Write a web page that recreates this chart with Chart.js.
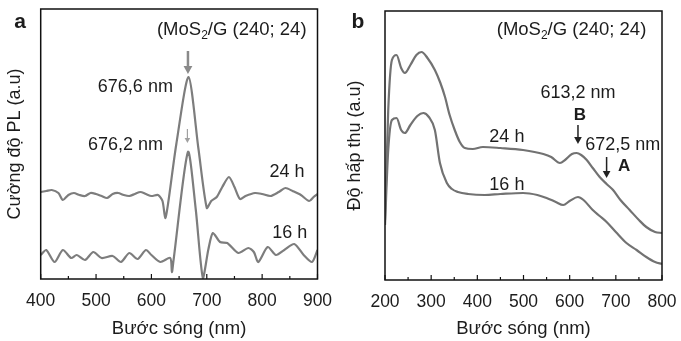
<!DOCTYPE html>
<html>
<head>
<meta charset="utf-8">
<script src="https://cdn.jsdelivr.net/npm/chart.js@4/dist/chart.umd.min.js"></script>
<style>
html,body{margin:0;padding:0;background:#fff;}
#wrap{position:relative;width:681px;height:341px;overflow:hidden;}
#ca{position:absolute;left:0;top:0;}
#cb{position:absolute;left:340px;top:0;}
</style>
</head>
<body>
<div id="wrap">
<canvas id="ca" width="340" height="341"></canvas>
<canvas id="cb" width="341" height="341"></canvas>
</div>
<script>
// ---------- Panel a: PL spectra ----------
const plWavelength24 = [400,410,420,432,440,450,460,470,480,490,500,510,520,530,540,550,560,570,580,590,600,612,620,625,630,645,667,685,700,708,718,728,740,750,760,770,787,800,815,830,842,855,870,885,893,900];
const plIntensity24  = [87,88,89,86,79,84,86,84,83,86,85,83,81,85,86,84,83,85,87,85,83,84,78,61,75,135,202,130,71,78,82,92,102,92,80,83,86,85,83,87,91,88,84,78,82,85];
const plWavelength16 = [400,410,425,440,455,465,480,495,510,530,545,560,575,590,600,616,634,637,640,666,680,693,703,711,724,737,757,775,785,793,810,825,840,858,875,890,900];
const plIntensity16  = [24,29,17,29,21,24,19,27,21,23,17,26,20,29,24,17,21,7,19,127,70,1,30,46,37,36,26,31,27,17,32,24,29,35,24,17,29];
const plTicks = [400,500,600,700,800,900];

// ---------- Panel b: absorption spectra ----------
const absWavelength24 = [200,207,215,225,235,243,255,268,279,292,308,320,330,340,351,362,373,390,412,450,499,543,560,579,590,605,615,625,637,650,665,680,694,710,730,750,766,785,800];
const absValue24      = [60,170,220,225,212,207,215,225,228,222,210,197,183,165,150,138,132,131,133,132,130,126,123,117,120,126,127,125,120,112,103,96,90,80,70,60,53,48,47];
const absWavelength16 = [200,207,215,225,235,243,255,270,283,295,308,319,334,345,358,380,416,450,499,530,550,570,586,600,618,630,650,665,680,700,723,745,766,785,800];
const absValue16      = [55,130,160,162,150,147,155,164,167,163,150,117,97,91,88,86,85,86,87,85,82,78,75,79,83,80,70,64,58,48,37,30,23,18,16];
const absTicks = [200,300,400,500,600,700,800];

const FONT = "'Liberation Sans', Arial, sans-serif";
const TXT = '#1c1c1c';
const FS = 18;

function pts(xs, ys){ return xs.map((x,i)=>({x:x,y:ys[i]})); }

function drawArrow(ctx, x, y1, y2, color, w, head){
  ctx.save();
  ctx.strokeStyle=color; ctx.fillStyle=color; ctx.lineWidth=w;
  ctx.beginPath(); ctx.moveTo(x,y1); ctx.lineTo(x,y2-head); ctx.stroke();
  ctx.beginPath(); ctx.moveTo(x-head*0.55,y2-head); ctx.lineTo(x+head*0.55,y2-head); ctx.lineTo(x,y2); ctx.closePath(); ctx.fill();
  ctx.restore();
}

function drawMoS2(ctx, x, y){
  ctx.save();
  ctx.fillStyle=TXT; ctx.textBaseline='middle'; ctx.textAlign='left';
  ctx.font = "18.5px "+FONT;
  let t1='(MoS'; ctx.fillText(t1,x,y); let w=ctx.measureText(t1).width;
  ctx.font = "12px "+FONT; ctx.fillText('2',x+w,y+6); w+=ctx.measureText('2').width;
  ctx.font = "18.5px "+FONT; ctx.fillText('/G (240; 24)',x+w,y);
  ctx.restore();
}

function framePlugin(minorStep, annot){
  return {
    id:'frame',
    afterDraw(chart){
      const ctx=chart.ctx, a=chart.chartArea, xs=chart.scales.x, ys=chart.scales.y;
      ctx.save();
      ctx.strokeStyle='#111'; ctx.lineWidth=1.5;
      ctx.strokeRect(a.left,a.top,a.right-a.left,a.bottom-a.top);
      ctx.lineWidth=1.2;
      for(let v=xs.min; v<=xs.max+0.001; v+=minorStep){
        const px=xs.getPixelForValue(v);
        const len = (Math.round(v)%100===0)?5:3;
        ctx.beginPath(); ctx.moveTo(px,a.bottom); ctx.lineTo(px,a.bottom-len); ctx.stroke();
      }
      ctx.restore();
      annot(ctx, xs, ys, chart);
    }
  };
}

function baseOptions(xmin,xmax,ymax,xTicks,yTitle,padRight,padTop,yWidth,xHeight){
  return {
    responsive:false, animation:false, devicePixelRatio:1,
    layout:{padding:{left:0,right:padRight,top:padTop,bottom:0}},
    plugins:{legend:{display:false},tooltip:{enabled:false}},
    elements:{point:{radius:0}},
    scales:{
      x:{type:'linear',min:xmin,max:xmax,
        afterBuildTicks(s){ s.ticks = xTicks.map(v=>({value:v})); },
        afterFit(s){ s.height=xHeight; },
        grid:{display:false}, border:{display:false},
        ticks:{color:TXT,font:{family:FONT,size:17.5},padding:4,maxRotation:0,autoSkip:false},
        title:{display:true,text:'Bước sóng (nm)',color:TXT,font:{family:FONT,size:18.5},padding:{top:4,bottom:1}}
      },
      y:{type:'linear',min:0,max:ymax,
        afterFit(s){ s.width=yWidth; },
        grid:{display:false}, border:{display:false},
        ticks:{display:false},
        title:{display:true,text:yTitle,color:TXT,font:{family:FONT,size:18},padding:{top:4,bottom:4}}
      }
    }
  };
}

// Panel a
const optA = baseOptions(400,900,270,plTicks,'Cường độ PL (a.u)',22.5,9,40.7,62);
new Chart(document.getElementById('ca'),{
  type:'line',
  data:{datasets:[
    {data:pts(plWavelength24,plIntensity24),borderColor:'#7d7d7d',borderWidth:2.2,tension:0.25,fill:false},
    {data:pts(plWavelength16,plIntensity16),borderColor:'#7d7d7d',borderWidth:2.2,tension:0.25,fill:false}
  ]},
  options:optA,
  plugins:[framePlugin(50,(ctx,xs,ys)=>{
    const X=v=>xs.getPixelForValue(v), Y=v=>ys.getPixelForValue(v);
    ctx.save();
    ctx.fillStyle=TXT; ctx.textBaseline='middle'; ctx.textAlign='center';
    ctx.font="bold 21px "+FONT; ctx.fillText('a',20,22);
    ctx.font=FS+"px "+FONT;
    ctx.fillText('676,6 nm',X(571),Y(192));
    ctx.fillText('676,2 nm',X(553),Y(134));
    ctx.fillText('24 h',X(845),Y(107));
    ctx.fillText('16 h',X(850),Y(46));
    ctx.restore();
    drawMoS2(ctx,X(610),Y(249));
    drawArrow(ctx,X(666),Y(228),Y(205),'#8a8a8a',2.5,8);
    drawArrow(ctx,X(665),Y(150),Y(136),'#a0a0a0',1.2,5);
  })]
});

// Panel b
const optB = baseOptions(200,800,269,absTicks,'Độ hấp thụ (a.u)',19,11,45,61);
new Chart(document.getElementById('cb'),{
  type:'line',
  data:{datasets:[
    {data:pts(absWavelength24,absValue24),borderColor:'#727272',borderWidth:2.2,cubicInterpolationMode:'monotone',fill:false},
    {data:pts(absWavelength16,absValue16),borderColor:'#727272',borderWidth:2.2,cubicInterpolationMode:'monotone',fill:false}
  ]},
  options:optB,
  plugins:[framePlugin(50,(ctx,xs,ys)=>{
    const X=v=>xs.getPixelForValue(v), Y=v=>ys.getPixelForValue(v);
    ctx.save();
    ctx.fillStyle=TXT; ctx.textBaseline='middle'; ctx.textAlign='center';
    ctx.font="bold 21px "+FONT; ctx.fillText('b',18,22);
    ctx.font=FS+"px "+FONT;
    ctx.fillText('613,2 nm',X(618),Y(187));
    ctx.fillText('672,5 nm',X(715),Y(135));
    ctx.fillText('24 h',X(464),Y(143));
    ctx.fillText('16 h',X(464),Y(95));
    ctx.font="bold 17px "+FONT;
    ctx.fillText('B',X(622),Y(165));
    ctx.fillText('A',X(718),Y(114));
    ctx.restore();
    drawMoS2(ctx,X(442),Y(250));
    drawArrow(ctx,X(618),Y(155),Y(136),'#222',1.5,7);
    drawArrow(ctx,X(680),Y(123),Y(102),'#222',1.5,7);
  })]
});
</script>
</body>
</html>
